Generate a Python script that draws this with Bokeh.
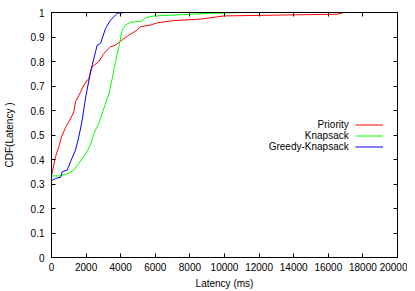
from bokeh.plotting import figure
from bokeh.models import (Range1d, FixedTicker, NumeralTickFormatter, LinearAxis,
                          Legend, LegendItem, Label, CustomJSTickFormatter)
from bokeh.embed import file_html
from bokeh.resources import INLINE

# ---- data ----
priority_x = [0, 0, 230, 425, 580, 810, 1000, 1195, 1290, 1390, 1680, 1870, 2160, 2355,
              2740, 3030, 3415, 3700, 4090, 4475, 4860, 5150, 5730, 6115, 7075, 8620,
              9970, 16530, 16915, 18630]
priority_y = [0, 0.333, 0.411, 0.452, 0.493, 0.530, 0.554, 0.580, 0.595, 0.636, 0.675,
              0.704, 0.731, 0.779, 0.800, 0.833, 0.860, 0.867, 0.888, 0.908, 0.924,
              0.942, 0.949, 0.958, 0.967, 0.973, 0.986, 0.993, 1.0, 1.0]

knapsack_x = [0, 0, 520, 1000, 1290, 1580, 1965, 2255, 2450, 2740, 2930, 3125, 3320,
              3510, 3700, 3895, 4090, 4280, 4570, 5245, 5440, 5920, 7270, 9200, 11100]
knapsack_y = [0, 0.333, 0.333, 0.344, 0.357, 0.385, 0.422, 0.460, 0.507, 0.548, 0.589,
              0.629, 0.668, 0.731, 0.800, 0.860, 0.929, 0.949, 0.960, 0.965, 0.979,
              0.986, 0.990, 0.997, 1.0]

greedy_x = [0, 0, 230, 520, 620, 910, 1100, 1390, 1580, 1775, 1965, 2255, 2355, 2645,
            2835, 3125, 3415, 3800, 4280, 5500]
greedy_y = [0, 0.313, 0.323, 0.327, 0.350, 0.357, 0.391, 0.439, 0.493, 0.561, 0.650,
            0.758, 0.786, 0.867, 0.874, 0.935, 0.969, 0.997, 1.0, 1.0]

series_names = ["Priority", "Knapsack", "Greedy-Knapsack"]
series_colors = ["#ff0000", "#00ff00", "#0000ff"]

x_ticks = list(range(0, 20001, 2000))
y_ticks = [i / 10 for i in range(11)]

FONT = "Liberation Sans"
FS = "10px"

p = figure(frame_width=346, frame_height=245,
           min_border_left=50, min_border_right=10, min_border_top=12, min_border_bottom=30,
           x_range=Range1d(0, 20000), y_range=Range1d(0, 1),
           output_backend="svg", toolbar_location=None,
           x_axis_label="Latency (ms)", y_axis_label="CDF(Latency )")
p.xgrid.visible = False
p.ygrid.visible = False
p.outline_line_color = "black"
p.outline_line_alpha = 1
p.background_fill_color = "white"
p.border_fill_color = "white"

renderers = []
for xs, ys, c in [(priority_x, priority_y, series_colors[0]),
                  (knapsack_x, knapsack_y, series_colors[1]),
                  (greedy_x, greedy_y, series_colors[2])]:
    renderers.append(p.line(xs, ys, line_color=c, line_width=1))

def style_axis(ax, ticks):
    ax.ticker = FixedTicker(ticks=ticks)
    ax.major_tick_in = 4
    ax.major_tick_out = 0
    ax.minor_tick_line_color = None
    ax.major_tick_line_color = "black"
    ax.axis_line_color = "black"
    ax.major_label_text_font = FONT
    ax.major_label_text_font_size = FS
    ax.major_label_text_color = "black"
    ax.axis_label_text_font = FONT
    ax.axis_label_text_font_size = FS
    ax.axis_label_text_font_style = "normal"
    ax.axis_label_text_color = "black"

style_axis(p.xaxis[0], x_ticks)
p.xaxis[0].major_label_standoff = 5
p.xaxis[0].axis_label_standoff = 4
style_axis(p.yaxis[0], y_ticks)
p.yaxis[0].formatter = NumeralTickFormatter(format="0.[0]")
p.yaxis[0].major_label_standoff = 7
p.yaxis[0].axis_label_standoff = 13

# mirrored tick marks (gnuplot style) on top and right, without labels
for loc, ticks in (("above", x_ticks), ("right", y_ticks)):
    ax = LinearAxis()
    style_axis(ax, ticks)
    ax.formatter = CustomJSTickFormatter(code="return ''")
    ax.major_label_standoff = 0
    p.add_layout(ax, loc)

legend = Legend(items=[LegendItem(label=" ", renderers=[r]) for r in renderers],
                location=(304, 105), glyph_width=28, glyph_height=11, label_height=11,
                label_width=0, label_standoff=0, spacing=0, padding=0, margin=0,
                label_text_font_size="8px", border_line_color=None,
                background_fill_alpha=0)
p.add_layout(legend)

label_ys = [0.5437, 0.497, 0.455]
for name, ly in zip(series_names, label_ys):
    p.add_layout(Label(x=17180, y=ly, text=name, text_align="right", text_baseline="middle",
                       text_font=FONT, text_font_size=FS, text_color="black"))

open("out.html", "w").write(file_html(p, INLINE))
